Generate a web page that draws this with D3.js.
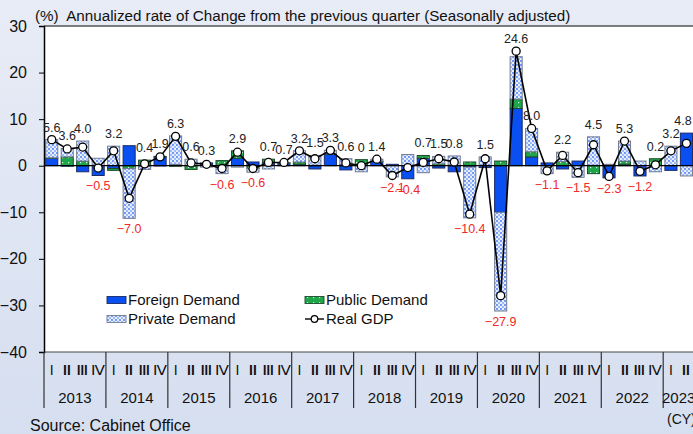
<!DOCTYPE html>
<html>
<head>
<meta charset="utf-8">
<script src="https://cdn.jsdelivr.net/npm/d3@7"></script>
<style>
  html, body { margin: 0; padding: 0; background: #dfe6f2; }
  svg { display: block; }
  text { font-family: "Liberation Sans", Arial, sans-serif; }
</style>
</head>
<body>
<svg id="chart" width="693" height="434"></svg>
<script>
// Contributions to Japan's real GDP growth (annualized q/q, %), 2013 Q1 - 2023 Q2
const years = ["2013", "2014", "2015", "2016", "2017", "2018", "2019", "2020", "2021", "2022", "2023"];
const quarterNames = ["I", "Ⅱ", "Ⅲ", "Ⅳ"];
const yTicks = [30, 20, 10, 0, -10, -20, -30, -40];

const foreignDemand = [1.6, -0.1, -1.3, -2.1, -0.6, 4.3, -0.2, 1.9, 0.3, 0.0, 0.6, 0.0,
  1.6, 0.8, 0.7, 0.5, 0.3, -0.7, 2.5, -0.9, 0.1, 0.9, 0.3, -2.8,
  1.6, -0.5, -1.3, -0.3, -0.4, -10.0, 12.3, 1.9, 0.6, -0.7, 1.0, 0.1,
  -2.6, 0.3, -2.2, 0.0, -1.0, 7.0];
const publicDemand = [0.1, 1.9, 1.0, 0.0, -0.4, -0.6, 1.2, 0.1, -0.1, -0.8, 0.0, 1.1,
  1.6, -0.6, 0.7, 0.1, 0.5, 0.1, 0.1, 0.3, 1.2, 0.1, 0.0, 0.0,
  0.6, 0.4, 0.1, 0.8, 0.0, 1.0, 2.0, 1.1, 0.0, 0.9, 0.0, -1.7,
  0.1, 0.7, 0.0, 1.5, 0.0, 0.0];
const privateDemand = [3.9, 1.8, 4.3, 1.6, 4.2, -10.7, -0.6, -0.1, 6.1, 1.4, -0.3, -1.7,
  -0.3, -0.8, -0.7, 0.1, 2.4, 2.1, 0.7, 1.2, -1.3, 0.4, -2.4, 2.4,
  -1.5, 1.6, 2.0, -10.9, 1.9, -21.2, 9.1, 5.0, -1.7, 2.0, -2.5, 6.1,
  0.2, 4.3, 1.0, -1.3, 4.2, -2.2];
const realGDP = [5.6, 3.6, 4.0, -0.5, 3.2, -7.0, 0.4, 1.9, 6.3, 0.6, 0.3, -0.6,
  2.9, -0.6, 0.7, 0.7, 3.2, 1.5, 3.3, 0.6, 0, 1.4, -2.1, -0.4,
  0.7, 1.5, 0.8, -10.4, 1.5, -27.9, 24.6, 8.0, -1.1, 2.2, -1.5, 4.5,
  -2.3, 5.3, -1.2, 0.2, 3.2, 4.8];

const rows = realGDP.map((g, i) => ({
  idx: i,
  year: years[Math.floor(i / 4)],
  q: i % 4,
  foreign: foreignDemand[i],
  public: publicDemand[i],
  private: privateDemand[i],
  gdp: g
}));

const W = 693, H = 434;
const plot = { left: 44, top: 26, bottom: 352, right: 44 + 42 * 15.48 };

const svg = d3.select("#chart");
const defs = svg.append("defs");

// page background
const bg = defs.append("linearGradient").attr("id", "bgGrad")
  .attr("x1", 0).attr("y1", 0).attr("x2", 0).attr("y2", 1);
bg.append("stop").attr("offset", "0%").attr("stop-color", "#e8ecf6");
bg.append("stop").attr("offset", "100%").attr("stop-color", "#d6dff0");
svg.append("rect").attr("width", W).attr("height", H).attr("fill", "url(#bgGrad)");

// fill patterns
const pPriv = defs.append("pattern").attr("id", "patPrivate")
  .attr("width", 4).attr("height", 4).attr("patternUnits", "userSpaceOnUse");
pPriv.append("rect").attr("width", 4).attr("height", 4).attr("fill", "#e6eefd");
pPriv.append("circle").attr("cx", 1).attr("cy", 1).attr("r", 0.9).attr("fill", "#3f72f2");
pPriv.append("circle").attr("cx", 3).attr("cy", 3).attr("r", 0.9).attr("fill", "#7da2f6");

const pPub = defs.append("pattern").attr("id", "patPublic")
  .attr("width", 6).attr("height", 5).attr("patternUnits", "userSpaceOnUse");
pPub.append("rect").attr("width", 6).attr("height", 5).attr("fill", "#1fa54a");
pPub.append("rect").attr("x", 2).attr("y", 2).attr("width", 1.2).attr("height", 1.2).attr("fill", "#d8f2df");

const fills = { foreign: "#0a4ff2", public: "url(#patPublic)", private: "url(#patPrivate)" };
const strokes = { foreign: "#1a2a66", public: "#1d4a2a", private: "#737b8e" };

// scales
const x = d3.scaleBand().domain(rows.map(d => d.idx)).range([plot.left, plot.right]).paddingInner(0.22).paddingOuter(0.11);
const y = d3.scaleLinear().domain([-40, 30]).range([plot.bottom, plot.top]);

// plot area
svg.append("rect").attr("x", plot.left).attr("y", plot.top)
  .attr("width", plot.right - plot.left).attr("height", plot.bottom - plot.top).attr("fill", "#ffffff");

// stacked contributions
const keys = ["foreign", "public", "private"];
const series = d3.stack().keys(keys).offset(d3.stackOffsetDiverging)(rows);

svg.append("g").selectAll("g").data(series).join("g")
  .attr("fill", s => fills[s.key]).attr("stroke", s => strokes[s.key]).attr("stroke-width", 1)
  .selectAll("rect").data(s => s.filter(d => Math.abs(d[1] - d[0]) > 0.001)).join("rect")
  .attr("x", d => x(d.data.idx))
  .attr("width", x.bandwidth())
  .attr("y", d => y(Math.max(d[0], d[1])))
  .attr("height", d => Math.abs(y(d[0]) - y(d[1])));

// zero line
svg.append("line").attr("x1", plot.left).attr("x2", W).attr("y1", y(0)).attr("y2", y(0))
  .attr("stroke", "#000").attr("stroke-width", 1.2);

// frame: top border and bottom edge
svg.append("line").attr("x1", plot.left).attr("x2", W).attr("y1", plot.top).attr("y2", plot.top)
  .attr("stroke", "#555").attr("stroke-width", 1.5);
svg.append("line").attr("x1", plot.left).attr("x2", W).attr("y1", plot.bottom).attr("y2", plot.bottom)
  .attr("stroke", "#444").attr("stroke-width", 1.2);

const yAxis = svg.append("g").attr("transform", `translate(${plot.left},0)`)
  .call(d3.axisLeft(y).tickValues(yTicks).tickSize(5).tickPadding(12).tickFormat(d3.format("d")));
yAxis.select(".domain").attr("stroke", "#000").attr("stroke-width", 1.5);
yAxis.selectAll(".tick line").attr("stroke", "#000");
yAxis.selectAll(".tick text").attr("font-size", 16).attr("fill", "#111")
  .attr("font-family", "'Liberation Sans', Arial, sans-serif");

// Real GDP line and markers
const cx = d => x(d.idx) + x.bandwidth() / 2;
svg.append("path").datum(rows)
  .attr("fill", "none").attr("stroke", "#000").attr("stroke-width", 1.6)
  .attr("d", d3.line().x(cx).y(d => y(d.gdp)));
svg.append("g").selectAll("circle").data(rows).join("circle")
  .attr("cx", cx).attr("cy", d => y(d.gdp)).attr("r", 4)
  .attr("fill", "#fff").attr("stroke", "#000").attr("stroke-width", 1.3);

// value labels: above the column for gains, below it for declines
const topOf = d => Math.max(0, d.foreign) + Math.max(0, d.public) + Math.max(0, d.private);
const botOf = d => Math.min(0, d.foreign) + Math.min(0, d.public) + Math.min(0, d.private);
svg.append("g").selectAll("text").data(rows).join("text")
  .attr("x", d => Math.min(cx(d), W - 10))
  .attr("y", d => d.gdp >= 0
    ? Math.min(y(topOf(d)), y(d.gdp)) - 8
    : Math.max(y(botOf(d)), y(d.gdp)) + 15)
  .attr("text-anchor", "middle")
  .attr("font-size", 12.5)
  .attr("fill", d => d.gdp >= 0 ? "#222" : "#f02828")
  .text(d => d.gdp === 0 ? "0" : d3.format(".1f")(d.gdp));

// legend
const legendItems = [
  { label: "Foreign Demand", key: "foreign", x: 107, y: 300 },
  { label: "Public Demand", key: "public", x: 305, y: 300 },
  { label: "Private Demand", key: "private", x: 107, y: 319 },
  { label: "Real GDP", key: "gdp", x: 305, y: 319 }
];
const lg = svg.append("g").selectAll("g").data(legendItems).join("g")
  .attr("transform", d => `translate(${d.x},${d.y})`);
lg.filter(d => d.key !== "gdp").append("rect")
  .attr("x", 0).attr("y", -3.5).attr("width", 19).attr("height", 7)
  .attr("fill", d => fills[d.key]).attr("stroke", d => strokes[d.key]).attr("stroke-width", 0.9);
const gl = lg.filter(d => d.key === "gdp");
gl.append("line").attr("x1", 0).attr("x2", 19).attr("y1", 0).attr("y2", 0).attr("stroke", "#000").attr("stroke-width", 1.4);
gl.append("circle").attr("cx", 9.5).attr("cy", 0).attr("r", 3.3).attr("fill", "#fff").attr("stroke", "#000").attr("stroke-width", 1.2);
lg.append("text").attr("x", 21).attr("y", 0).attr("dy", "0.36em")
  .attr("font-size", 15).attr("fill", "#111").text(d => d.label);

// category axis: quarters (wide serif numerals) and years
const numeralWidth = [0, 10, 13, 14];
const qg = svg.append("g");
const qt = qg.selectAll("text").data(rows).join("text")
  .attr("x", cx).attr("y", 370).attr("dy", "0.36em")
  .attr("text-anchor", "middle")
  .attr("font-family", "'Liberation Serif', 'DejaVu Serif', serif")
  .attr("font-size", 14).attr("fill", "#111")
  .text(d => quarterNames[d.q]);
qt.filter(d => d.q > 0)
  .attr("textLength", d => numeralWidth[d.q])
  .attr("lengthAdjust", "spacingAndGlyphs");

const yearSpans = years.map(yr => {
  const r = rows.filter(d => d.year === yr);
  return { yr, x0: x(r[0].idx) - x.step() * x.paddingInner() / 2, x1: x(r[r.length - 1].idx) + x.bandwidth() + x.step() * x.paddingInner() / 2 };
});
qg.append("g").selectAll("line").data(yearSpans).join("line")
  .attr("x1", d => d.x0).attr("x2", d => d.x0).attr("y1", plot.bottom).attr("y2", 408)
  .attr("stroke", "#333").attr("stroke-width", 1.2);
qg.append("g").selectAll("text").data(yearSpans).join("text")
  .attr("x", d => (d.x0 + d.x1) / 2).attr("y", 398).attr("dy", "0.36em")
  .attr("text-anchor", "middle").attr("font-size", 15).attr("fill", "#111")
  .text(d => d.yr);

// titles and notes
svg.append("text").attr("x", 35).attr("y", 16).attr("dy", "0.36em")
  .attr("font-size", 15.2).attr("fill", "#111").style("white-space", "pre")
  .text("(%)  Annualized rate of Change from the previous quarter (Seasonally adjusted)");
svg.append("text").attr("x", 667).attr("y", 419).attr("dy", "0.36em")
  .attr("font-size", 14).attr("fill", "#111").text("(CY)");
svg.append("text").attr("x", 30).attr("y", 425).attr("dy", "0.36em")
  .attr("font-size", 16).attr("fill", "#111").text("Source: Cabinet Office");
</script>
</body>
</html>
